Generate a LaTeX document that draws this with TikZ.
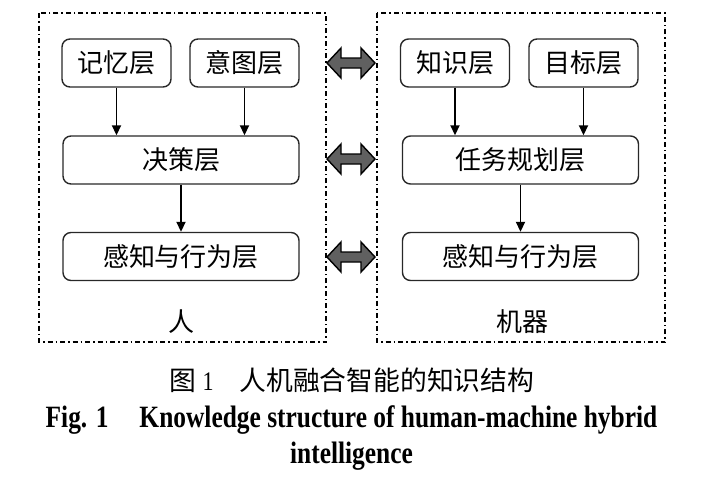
\documentclass[tikz,border=0pt]{standalone}
\usepackage{fontspec}
\usepackage{tikz}
\usetikzlibrary{arrows.meta}
\usetikzlibrary{calc}
\newfontfamily\cjk{Noto Sans CJK SC}
\newfontfamily\capfont[FakeStretch=0.82]{Liberation Serif}
\definecolor{arrowgray}{RGB}{96,96,96}
\definecolor{framegray}{RGB}{40,40,40}
\tikzset{
    layer/.style={draw=framegray, line width=0.7pt, rounded corners=4pt, inner sep=0pt,
        minimum height=24pt, font=\cjk\fontsize{13pt}{13pt}\selectfont},
    smalllayer/.style={layer, minimum width=54.5pt},
    widelayer/.style={layer, minimum width=118pt},
    groupframe/.style={line width=0.75pt, dash pattern=on 2.5pt off 1.5pt on 0.75pt off 1.5pt},
    grouplabel/.style={font=\cjk\fontsize{13pt}{13pt}\selectfont},
}
\newcommand{\drawflow}{\draw[line width=0.9pt, -{Triangle[length=5pt,width=4.5pt]}]}
\newcommand{\duplexarrow}[2]{\fill[arrowgray, draw=black, line width=0.7pt]
    (#1-24, #2) -- (#1-10, #2-15) -- (#1-10, #2-5) -- (#1+10, #2-5) -- (#1+10, #2-15)
    -- (#1+24, #2) -- (#1+10, #2+15) -- (#1+10, #2+5) -- (#1-10, #2+5) -- (#1-10, #2+15) -- cycle;
}

\begin{document}
\begin{tikzpicture}[x=0.5pt, y=-0.5pt]
        \useasboundingbox (0, 0) rectangle (713, 494);

        % Draw frames
        \draw[groupframe] (39, 13) rectangle (326, 342);
        \draw[groupframe] (377, 13) rectangle (665, 342);

        % Human side
        \node[smalllayer] (memory) at (116.5, 63) {记忆层};
        \node[smalllayer] (intent) at (244.5, 63) {意图层};
        \node[widelayer] (decide) at (181, 160) {决策层};
        \node[widelayer] (hact) at (181, 256.5) {感知与行为层};
        \node[grouplabel] (human) at (181, 322) {人};

        % Machine side
        \node[smalllayer] (know) at (455, 63) {知识层};
        \node[smalllayer] (goal) at (583.5, 63) {目标层};
        \node[widelayer] (plan) at (520.5, 160) {任务规划层};
        \node[widelayer] (mact) at (520.5, 256.5) {感知与行为层};
        \node[grouplabel] (machine) at (522, 322) {机器};

        % Draw flows
        \drawflow (memory.south) -- (memory.south |- decide.north);
        \drawflow (intent.south) -- (intent.south |- decide.north);
        \drawflow (decide.south) -- (hact.north);
        \drawflow (know.south) -- (know.south |- plan.north);
        \drawflow (goal.south) -- (goal.south |- plan.north);
        \drawflow (plan.south) -- (mact.north);

        % Draw exchange arrows
        \duplexarrow{351}{63}
        \duplexarrow{351}{159}
        \duplexarrow{351}{257}

        % Caption
        \node[anchor=base] (capcn) at (352, 390) {\cjk\fontsize{13.4pt}{13.4pt}\selectfont 图\hspace{3pt}{\capfont 1}\hspace{13pt}人机融合智能的知识结构};
        \node[anchor=base] (capen1) at (351.5, 427) {\capfont\bfseries\fontsize{15.5pt}{15.5pt}\selectfont Fig. 1\hspace{15.5pt}Knowledge structure of human-machine hybrid};
        \node[anchor=base] (capen2) at (351.5, 463) {\capfont\bfseries\fontsize{15.5pt}{15.5pt}\selectfont intelligence};
    \end{tikzpicture}
\end{document}
